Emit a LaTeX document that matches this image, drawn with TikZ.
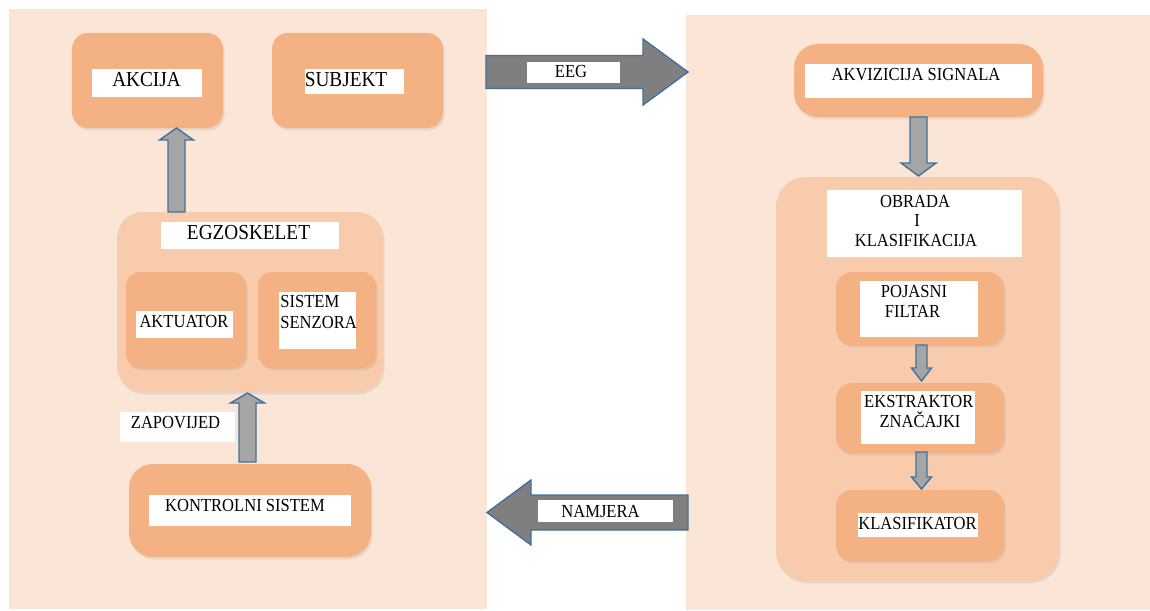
\documentclass[tikz,border=0pt]{standalone}
\usepackage{fontspec}
\setmainfont{Liberation Serif}
\newfontfamily\labfont[FakeStretch=0.9]{Liberation Serif}
\usetikzlibrary{calc,shadows}
\definecolor{panelc}{HTML}{FAE5D6}
\definecolor{boxc}{HTML}{F4B183}
\definecolor{contc}{HTML}{F8CBAD}
\definecolor{argray}{HTML}{A5A5A5}
\definecolor{ardark}{HTML}{7F7F7F}
\definecolor{arblue}{HTML}{41719C}
\newcommand{\bx}[6][]{\node[inner sep=0pt, outer sep=0pt, minimum width={(#5-#3)*0.5pt}, minimum height={(#6-#4)*0.5pt}, #1] (#2) at ({(#3+#5)/2},{(#4+#6)/2}) {};}
% vertical block arrow: #2 start, #3 tip, #4 half shaft, #5 half head, #6 head length, #7 sign
\newcommand{\vblk}[7][]{\draw[#1] let \p1=(#2), \p2=(#3) in ({\x1-#4},\y1) -- ({\x1-#4},{\y2#7#6}) -- ({\x1-#5},{\y2#7#6}) -- (\x2,\y2) -- ({\x1+#5},{\y2#7#6}) -- ({\x1+#4},{\y2#7#6}) -- ({\x1+#4},\y1) -- cycle;}
\newcommand{\hblk}[7][]{\draw[#1] let \p1=(#2), \p2=(#3) in (\x1,{\y1-#4}) -- ({\x2#7#6},{\y1-#4}) -- ({\x2#7#6},{\y1-#5}) -- (\x2,\y2) -- ({\x2#7#6},{\y1+#5}) -- ({\x2#7#6},{\y1+#4}) -- (\x1,{\y1+#4}) -- cycle;}
\tikzset{
  panel/.style={fill=panelc},
  cont/.style={fill=contc, rounded corners=13pt, drop shadow={opacity=0.15, shadow xshift=0.8pt, shadow yshift=-1.2pt}},
  boxn/.style={fill=boxc, rounded corners=8pt, drop shadow={opacity=0.15, shadow xshift=0.8pt, shadow yshift=-1.2pt}},
  lab/.style={fill=white},
  garrow/.style={fill=argray, draw=arblue, line width=0.7pt, line join=miter},
  darrow/.style={fill=ardark, draw=arblue, line width=0.7pt, line join=miter},
  txt/.style={inner sep=0pt, anchor=base, font=\labfont\fontsize{9.2}{11}\selectfont, text=black},
  bigtxt/.style={txt, font=\labfont\fontsize{10.7}{12}\selectfont},
}
\begin{document}
\begin{tikzpicture}[x=0.5pt, y=-0.5pt]
\useasboundingbox (0,0) rectangle (1150,610);
\fill[white] (0,0) rectangle (1150,610);
% panels
\bx[panel]{lp}{9}{9}{487}{609}
\bx[panel]{rp}{686}{15}{1150}{610}
% left side boxes
\bx[boxn]{akc}{72}{33}{223}{128}
\bx[boxn]{sub}{272}{33}{443}{128}
\bx[cont]{egz}{117}{212}{383}{392}
\bx[boxn, rounded corners=7pt]{akt}{126}{272}{246}{368}
\bx[boxn, rounded corners=7pt]{sen}{258}{272}{376}{368}
\bx[boxn, rounded corners=12pt]{kon}{129}{464}{371}{557}
% right side boxes
\bx[boxn, rounded corners=12pt]{akv}{794}{44}{1043}{117}
\bx[cont, rounded corners=15pt]{obr}{776}{177}{1059}{581}
\bx[boxn]{poj}{836}{272}{1004}{345}
\bx[boxn]{eks}{836}{383}{1004}{453}
\bx[boxn]{kla}{836}{490}{1004}{561}
% arrow end points
\coordinate (a1s) at (176.5,212); \coordinate (a1t) at (176.5,128);
\coordinate (a2s) at (247.5,462); \coordinate (a2t) at (247.5,393);
\coordinate (a3s) at (918.5,117); \coordinate (a3t) at (918.5,176);
\coordinate (a4s) at (921.5,345); \coordinate (a4t) at (921.5,381);
\coordinate (a5s) at (921.5,452); \coordinate (a5t) at (921.5,489);
\coordinate (ees) at (486,72); \coordinate (eet) at (688,72);
\coordinate (nas) at (688,512.5); \coordinate (nat) at (487,512.5);
\vblk[garrow]{a1s}{a1t}{4.25pt}{8.5pt}{6pt}{-}
\vblk[garrow]{a2s}{a2t}{4.25pt}{8.5pt}{5pt}{-}
\vblk[garrow]{a3s}{a3t}{4.25pt}{8.75pt}{6.5pt}{+}
\vblk[garrow]{a4s}{a4t}{2.75pt}{5pt}{6.5pt}{+}
\vblk[garrow]{a5s}{a5t}{2.75pt}{5pt}{6pt}{+}
\hblk[darrow]{ees}{eet}{8.25pt}{16.5pt}{22.5pt}{-}
\hblk[darrow]{nas}{nat}{8.75pt}{16.25pt}{22pt}{+}
% white label boxes
\bx[lab]{akcL}{92}{69}{202}{97}
\bx[lab]{subL}{305}{69}{404}{94}
\bx[lab]{egzL}{161}{222}{339}{249}
\bx[lab]{aktL}{136}{311}{233}{338}
\bx[lab]{senL}{279}{292}{356}{349}
\bx[lab]{zapL}{120}{412}{235}{442}
\bx[lab]{konL}{149}{495}{351}{526}
\bx[lab]{eegL}{527}{62}{620}{83}
\bx[lab]{namL}{538}{500}{673}{522}
\bx[lab]{akvL}{805}{64}{1032}{98}
\bx[lab]{obrL}{827}{190}{1022}{257}
\bx[lab]{pojL}{860}{281}{978}{337}
\bx[lab]{eksL}{861}{391}{975}{444}
\bx[lab]{klaL}{858}{513}{978}{537}
% texts
\node[bigtxt] (akcT) at (146.5,87) {AKCIJA};
\node[bigtxt] (subT) at (346,87) {SUBJEKT};
\node[bigtxt] (egzT) at (248.5,239) {EGZOSKELET};
\node[txt] (aktT) at (184,327) {AKTUATOR};
\node[txt, anchor=base west] (senT1) at (280,307) {SISTEM};
\node[txt, anchor=base west] (senT2) at (280,328) {SENZORA};
\node[txt] (zapT) at (175.5,428) {ZAPOVIJED};
\node[txt] (konT) at (245,511) {KONTROLNI SISTEM};
\node[txt] (eegT) at (571,78) {EEG};
\node[txt] (namT) at (600.5,517) {NAMJERA};
\node[txt] (akvT) at (916,81) {AKVIZICIJA SIGNALA};
\node[txt] (obrT1) at (915,207) {OBRADA};
\node[txt] (obrT2) at (917,226) {I};
\node[txt] (obrT3) at (916,246) {KLASIFIKACIJA};
\node[txt] (pojT1) at (914,297) {POJASNI};
\node[txt] (pojT2) at (912.5,317) {FILTAR};
\node[txt] (eksT1) at (918.8,407) {EKSTRAKTOR};
\node[txt] (eksT2) at (920,427) {ZNAČAJKI};
\node[txt] (klaT) at (917.5,529) {KLASIFIKATOR};
\end{tikzpicture}
\end{document}
